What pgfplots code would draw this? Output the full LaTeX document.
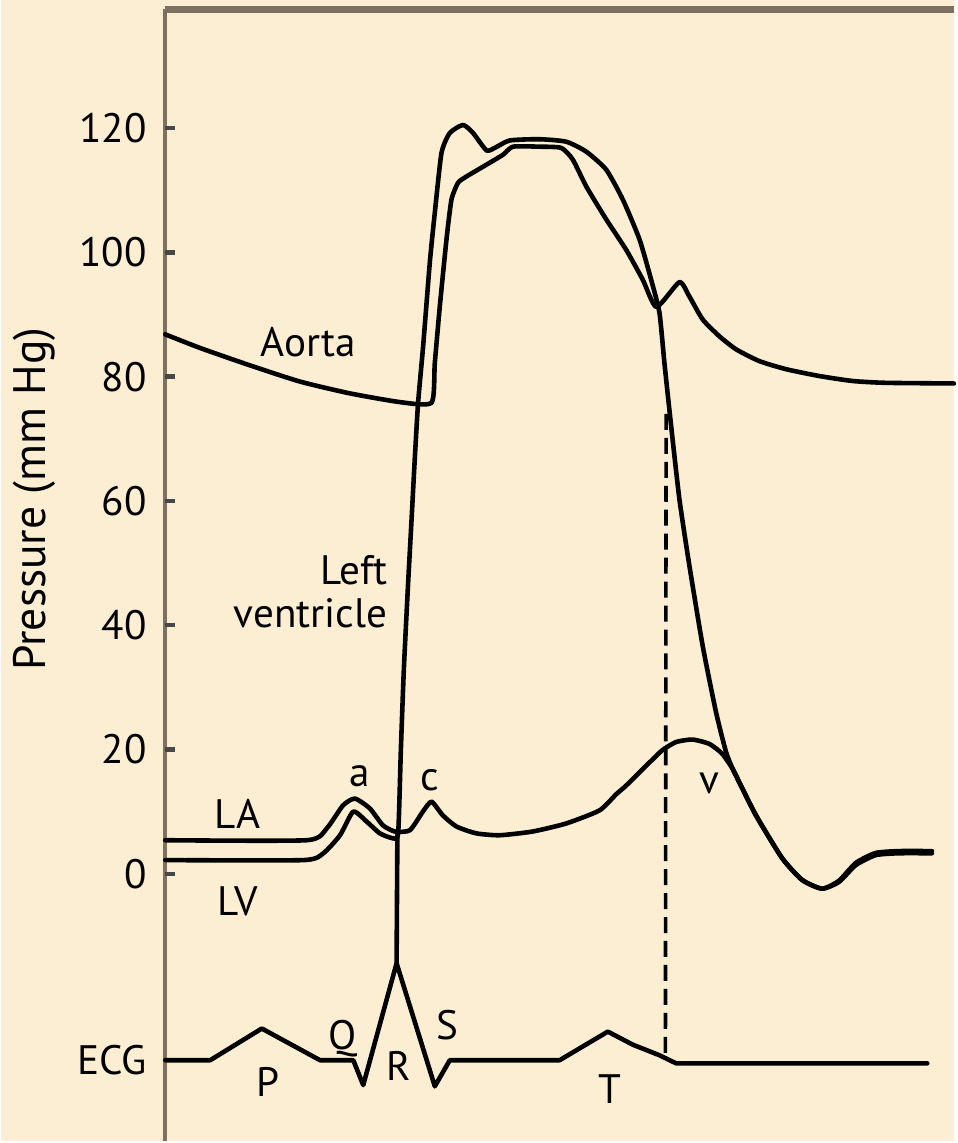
\documentclass[border=0pt]{standalone}
\usepackage{fontspec}
\setmainfont{PT Sans}
\usepackage{xcolor}
\usepackage{pgfplots}
\pgfplotsset{compat=1.18}
\definecolor{bg}{RGB}{252,238,210}
\definecolor{axcol}{RGB}{125,114,98}
\newcommand{\lab}{\fontsize{10.3}{12}\selectfont}
\begin{document}
\begin{tikzpicture}
\fill[bg] (-41.125pt,0pt) rectangle (197.625pt,285.75pt);
\begin{axis}[
  at={(0pt,0pt)}, anchor=south west,
  scale only axis,
  width=197.625pt, height=283.375pt,
  xmin=164.5, xmax=955, ymin=-43.0, ymax=139.08,
  axis line style={draw=none},
  xmajorticks=false,
  ytick={-30,0,20,40,60,80,100,120},
  yticklabels={ECG,0,20,40,60,80,100,120},
  ytick pos=left,
  tick align=inside,
  tickwidth=0pt,
  /pgf/number format/assume math mode=true,
  yticklabel style={font=\lab, xshift=-1pt},
  clip=false,
  curve/.style={black, line width=1.15pt, line join=round, line cap=round, mark=none},
  scurve/.style={curve, smooth, tension=0.35},
  tk/.style={black!72, line width=1.1pt, mark=none},
]
\addplot[axcol, line width=1pt, mark=none] coordinates {(164.5,-43.0)(164.5,139.08)};
\addplot[axcol, line width=1.75pt, mark=none] coordinates {(164.5,139.08)(955,139.08)};
% tick marks
\addplot[tk] coordinates {(165,0)(175,0)};
\addplot[tk] coordinates {(165,20)(175,20)};
\addplot[tk] coordinates {(165,40)(175,40)};
\addplot[tk] coordinates {(165,60)(175,60)};
\addplot[tk] coordinates {(165,80)(175,80)};
\addplot[tk] coordinates {(165,100)(175,100)};
\addplot[tk] coordinates {(165,120)(175,120)};
% Aorta
\addplot[scurve] coordinates {
(165,86.8)(200,84.6)(250,81.8)(300,79.2)(350,77.3)(400,75.9)(431.7,75.8)
(435,82.2)(440,91.3)(446.7,102.1)(451.7,108.5)(458.3,111.2)(466.7,112.2)
(486.7,114.1)(503.3,115.7)(513.3,117.0)(540,117.0)(561.7,116.8)(573.3,114.9)
(586.7,110.6)(606.7,105.3)(626.7,100.4)(643.3,95.6)(657,91.2)(680,95.2)
(690,92.9)(703.3,89.2)(720,86.5)(736.7,84.4)(760,82.5)(786.7,81.2)
(820,80.1)(853.3,79.3)(886.7,79.0)(955,78.9)
};
% Left ventricle
\addplot[scurve] coordinates {
(165,2.2)(303.3,2.2)(323.3,3.3)(340,6.2)(353.3,10.0)(366.7,8.4)(380,6.5)
(393.3,5.7)(398.3,6.6)(401,20)(404,33)(408,46)(411.7,57)(415,67)(418.3,75.9)
(423.3,84.9)(430,98.4)(435,106.4)(441.7,116.0)(450,119.2)(463.3,120.5)
(473.3,119.2)(486.7,116.4)(495,116.8)(510,118.0)(540,118.2)(566.7,117.8)
(586.7,116.2)(606.7,113.3)(623.3,108.5)(640,102.1)(651.7,95.6)(660,90.3)
(665,82.2)(671.7,72.1)(680,60.3)(690,49.6)(703.3,36.7)(716.7,26.0)
(726.7,19.6)(733.3,16.9)(736.7,15.8)(756.7,9.4)(783,2.5)(803,-1.0)
(823,-2.4)(840,-1.3)(856.7,1.4)(876.7,3.0)(900,3.3)(933,3.3)
};
% Left atrium
\addplot[scurve] coordinates {
(165,5.4)(306.7,5.4)(326.7,7.3)(343,11.0)(355,12.1)(370,10.5)(383,7.8)
(395,6.8)(410,7.0)(423,10.0)(431.7,11.6)(443,9.4)(456.7,7.6)(476.7,6.5)
(500,6.2)(533,6.8)(566.7,8.1)(600,10.2)(616.7,12.8)(626.7,14.2)(650,17.9)
(663,19.9)(676.7,21.2)(693,21.6)(710,20.9)(723,19.3)(733.3,16.9)
(736.7,15.8)(756.7,9.4)(783,2.5)(803,-1.0)(823,-2.4)(840,-1.1)
(856.7,1.75)(876.7,3.35)(900,3.65)(933,3.65)
};
% R-wave timing line
\addplot[curve] coordinates {(396.7,-14.4)(397.5,6.2)};
% ECG
\addplot[curve] coordinates {
(165,-30)(210,-30)(261.7,-24.9)(320,-30)(353.3,-30)(363.3,-34.0)
(396.7,-14.4)(435,-34.2)(450,-30)(560,-30)(608.3,-25.4)(633.3,-27.5)
(660,-29.2)(676.7,-30.5)(928.3,-30.5)
};
% dashed line
\addplot[black, line width=0.9pt, dash pattern=on 4pt off 2pt, mark=none] coordinates {(666.7,74)(666,-29.5)};
% labels
\node[rotate=90, font=\fontsize{11.4}{13}\selectfont] at (axis cs:34,60.3) {Pressure (mm Hg)};
\node[anchor=base, font=\lab] at (axis cs:308.3,83.3) {Aorta};
\node[anchor=base east, font=\lab, inner sep=0pt] at (axis cs:388,46.6) {Left};
\node[anchor=base east, font=\lab, inner sep=0pt] at (axis cs:388,39.7) {ventricle};
\node[anchor=base, font=\lab] at (axis cs:237.5,7.3) {LA};
\node[anchor=base, font=\lab] at (axis cs:237.5,-6.65) {LV};
\node[anchor=base, font=\lab] at (axis cs:360,14.0) {a};
\node[anchor=base, font=\lab] at (axis cs:430,13.4) {c};
\node[anchor=base, font=\lab] at (axis cs:710,12.9) {v};
\node[anchor=base, font=\lab] at (axis cs:267.5,-35.8) {P};
\node[anchor=base, font=\lab] at (axis cs:343,-28.3) {Q};
\node[anchor=base, font=\lab] at (axis cs:399,-33.2) {R};
\node[anchor=base, font=\lab] at (axis cs:447.5,-26.7) {S};
\node[anchor=base, font=\lab] at (axis cs:610.8,-36.9) {T};
\end{axis}
\end{tikzpicture}
\end{document}
